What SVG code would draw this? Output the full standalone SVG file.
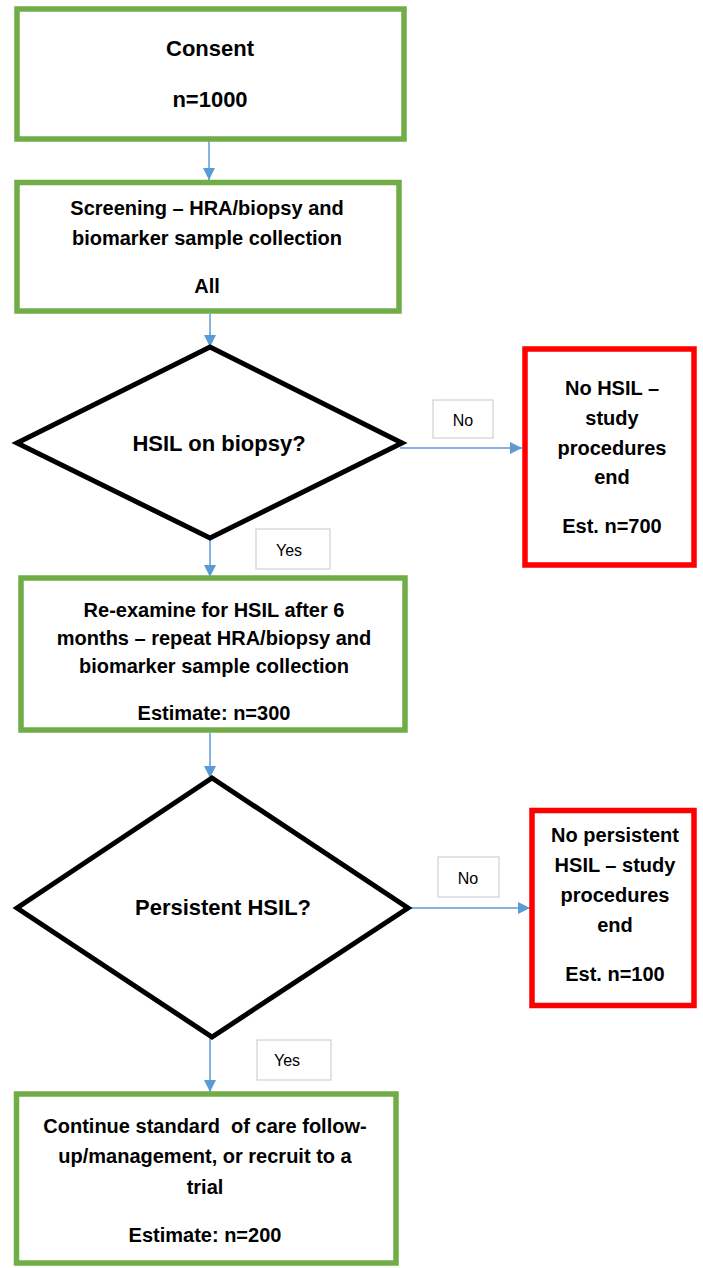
<svg xmlns="http://www.w3.org/2000/svg" width="703" height="1268" viewBox="0 0 703 1268">
<style>
.g{fill:#fff;stroke:#70AD47;stroke-width:5.5}
.r{fill:#fff;stroke:#FF0000;stroke-width:5.5}
.d{fill:#fff;stroke:#000;stroke-width:5;stroke-linejoin:miter}
.lb{fill:#fff;stroke:#C8C8C8;stroke-width:1}
.t{font-family:"Liberation Sans",Arial,sans-serif;font-size:20px;font-weight:bold;fill:#000;text-anchor:middle}
.big{font-size:22px}
.s{font-family:"Liberation Sans",Arial,sans-serif;font-size:16px;fill:#000;text-anchor:middle}
.c{fill:none;stroke:#5B9BD5;stroke-width:1.5}
</style>
<defs>
<marker id="ah" viewBox="0 0 12 12" refX="12" refY="6" markerWidth="12" markerHeight="12" markerUnits="userSpaceOnUse" orient="auto">
<path d="M0 0 L12 6 L0 12 z" fill="#5B9BD5"/>
</marker>
</defs>
<rect width="703" height="1268" fill="#fff"/>
<g id="connectors">
<path class="c" d="M209 141 V180" marker-end="url(#ah)"/>
<path class="c" d="M210 314 V347" marker-end="url(#ah)"/>
<path class="c" d="M210 538 V577" marker-end="url(#ah)"/>
<path class="c" d="M400 448 H522" marker-end="url(#ah)"/>
<path class="c" d="M210 733 V778" marker-end="url(#ah)"/>
<path class="c" d="M409 908 H530" marker-end="url(#ah)"/>
<path class="c" d="M210 1037 V1092" marker-end="url(#ah)"/>
</g>
<g id="label-no1">
<rect class="lb" x="433" y="400" width="60" height="38"/>
<text class="s" x="463" y="426">No</text>
</g>
<g id="label-yes1">
<rect class="lb" x="256" y="529" width="74" height="40"/>
<text class="s" x="289" y="556">Yes</text>
</g>
<g id="label-no2">
<rect class="lb" x="438" y="857" width="61" height="40"/>
<text class="s" x="468" y="884">No</text>
</g>
<g id="label-yes2">
<rect class="lb" x="257" y="1040" width="74" height="40"/>
<text class="s" x="287" y="1066">Yes</text>
</g>
<g id="consent">
<rect class="g" x="17" y="9" width="387" height="130"/>
<text class="t big" x="210" y="56">Consent</text>
<text class="t big" x="210" y="107">n=1000</text>
</g>
<g id="screening">
<rect class="g" x="17" y="182.5" width="382" height="128.5"/>
<text class="t" x="207" y="215">Screening – HRA/biopsy and</text>
<text class="t" x="207" y="245">biomarker sample collection</text>
<text class="t" x="207" y="293">All</text>
</g>
<g id="hsil-biopsy">
<polygon class="d" points="210,347 402,443 210,538 17,443"/>
<text class="t big" x="219" y="451">HSIL on biopsy?</text>
</g>
<g id="no-hsil">
<rect class="r" x="525" y="349" width="169" height="216"/>
<text class="t" x="612" y="395">No HSIL –</text>
<text class="t" x="612" y="425">study</text>
<text class="t" x="612" y="455">procedures</text>
<text class="t" x="612" y="484">end</text>
<text class="t" x="612" y="533">Est. n=700</text>
</g>
<g id="reexamine">
<rect class="g" x="21" y="578" width="384" height="152"/>
<text class="t" x="214" y="617">Re-examine for HSIL after 6</text>
<text class="t" x="214" y="645">months – repeat HRA/biopsy and</text>
<text class="t" x="214" y="673">biomarker sample collection</text>
<text class="t" x="214" y="720">Estimate: n=300</text>
</g>
<g id="persistent">
<polygon class="d" points="212,778 408,908 212,1037 17,908"/>
<text class="t big" x="223" y="915">Persistent HSIL?</text>
</g>
<g id="no-persistent">
<rect class="r" x="532" y="810.5" width="162" height="195"/>
<text class="t" x="615" y="842">No persistent</text>
<text class="t" x="615" y="872">HSIL – study</text>
<text class="t" x="615" y="902">procedures</text>
<text class="t" x="615" y="932">end</text>
<text class="t" x="615" y="981">Est. n=100</text>
</g>
<g id="continue">
<rect class="g" x="16.5" y="1094" width="379.5" height="169"/>
<text class="t" x="205" y="1133" xml:space="preserve">Continue standard  of care follow-</text>
<text class="t" x="205" y="1163">up/management, or recruit to a</text>
<text class="t" x="205" y="1194">trial</text>
<text class="t" x="205" y="1242">Estimate: n=200</text>
</g>
</svg>
